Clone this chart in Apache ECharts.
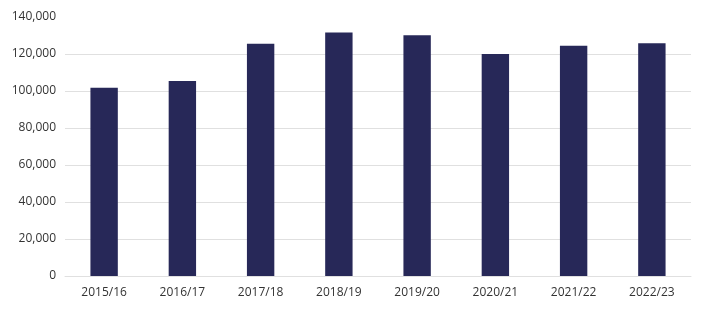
<!DOCTYPE html>
<html>
<head>
<meta charset="utf-8">
<script src="https://cdn.jsdelivr.net/npm/echarts@6/dist/echarts.min.js"></script>
<style>
html,body{margin:0;padding:0;background:#fff;}
#c{width:711px;height:328px;}
</style>
</head>
<body>
<div id="c"></div>
<script>
const categories = ['2015/16','2016/17','2017/18','2018/19','2019/20','2020/21','2021/22','2022/23'];
const values = [101700, 105400, 125600, 131600, 130200, 120000, 124400, 125800];

const chart = echarts.init(document.getElementById('c'), null, {renderer:'canvas'});
chart.setOption({
  animation: false,
  backgroundColor: '#ffffff',
  grid: {left: 65, right: 20, top: 17, bottom: 52, containLabel: false},
  xAxis: {
    type: 'category',
    data: categories,
    axisLine: {show: true, lineStyle: {color: '#e0e0e0', width: 1}},
    axisTick: {show: false},
    axisLabel: {color: '#333333', fontSize: 12, fontFamily: 'Open Sans', margin: 11}
  },
  yAxis: {
    type: 'value',
    min: 0, max: 140000, interval: 20000,
    axisLine: {show: false},
    axisTick: {show: false},
    splitLine: {showMaxLine: false, lineStyle: {color: '#e0e0e0', width: 1}},
    axisLabel: {
      color: '#333333', fontSize: 12, fontFamily: 'Open Sans', margin: 9,
      formatter: v => v.toLocaleString('en-US')
    }
  },
  series: [{
    type: 'bar',
    data: values,
    barWidth: '35%',
    itemStyle: {color: '#272858'}
  }]
});
</script>
</body>
</html>
